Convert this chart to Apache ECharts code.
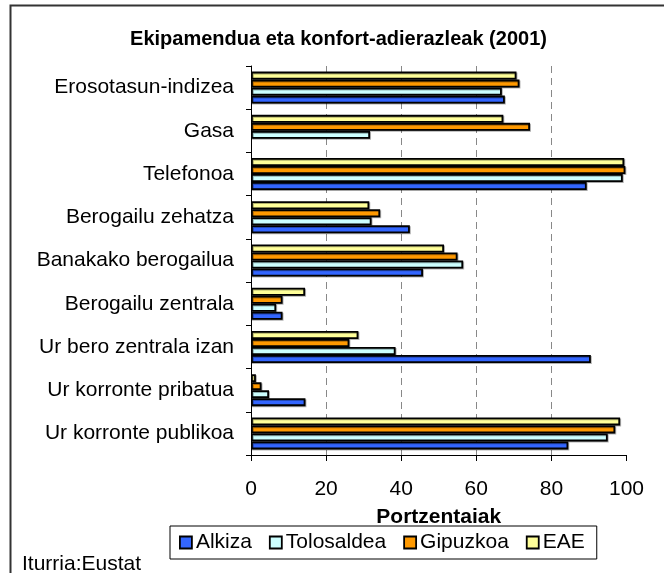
<!DOCTYPE html>
<html>
<head>
<meta charset="utf-8">
<script src="https://cdn.jsdelivr.net/npm/echarts@6/dist/echarts.min.js"></script>
<style>html,body{margin:0;padding:0;background:#fff;}#c{width:664px;height:573px;}</style>
</head>
<body>
<div id="c"></div>
<script>
const categories = ["Erosotasun-indizea","Gasa","Telefonoa","Berogailu zehatza","Banakako berogailua","Berogailu zentrala","Ur bero zentrala izan","Ur korronte pribatua","Ur korronte publikoa"];
const seriesNames = ["Alkiza","Tolosaldea","Gipuzkoa","EAE"];
const alkiza     = [67.6, null, 89.4, 42.3, 45.8, 8.4, 90.5, 14.5, 84.5];
const tolosaldea = [66.8, 31.7, 99.0, 32.1, 56.5, 6.7, 38.5, 4.8, 95.0];
const gipuzkoa   = [71.5, 74.3, 99.7, 34.4, 55.0, 8.4, 26.2, 2.8, 97.0];
const eae        = [70.7, 67.2, 99.4, 31.5, 51.4, 14.4, 28.6, 1.3, 98.3];
const xTicks = [0, 20, 40, 60, 80, 100];
const colors = ["#3366FF","#CCFFFF","#FF9900","#FFFF99"];
const values = [alkiza, tolosaldea, gipuzkoa, eae];

const chart = echarts.init(document.getElementById('c'), null, {renderer:'canvas'});
const font = 'Liberation Sans, Arial, sans-serif';
// with an inverted category axis the first series is drawn on top, so draw EAE first
const order = [3, 2, 1, 0];
chart.setOption({
  backgroundColor: '#fff',
  animation: false,
  graphic: [{
    type: 'rect', shape: {x: 10.5, y: 5.5, width: 700, height: 700},
    style: {fill: null, stroke: '#333', lineWidth: 2}, silent: true
  }, {
    type: 'text', x: 338.5, y: 39,
    style: {text: 'Ekipamendua eta konfort-adierazleak (2001)', font: 'bold 20px ' + font, fill: '#000',
      textAlign: 'center', textVerticalAlign: 'middle'}
  }, {
    type: 'text', x: 22, y: 564,
    style: {text: 'Iturria:Eustat', font: '21px ' + font, fill: '#000', textVerticalAlign: 'middle'}
  }],
  legend: {
    data: seriesNames,
    left: 170, top: 526,
    itemWidth: 12, itemHeight: 12, itemGap: 17,
    padding: [6, 12, 6, 9],
    borderColor: '#000', borderWidth: 1,
    textStyle: {fontFamily: font, fontSize: 21, color: '#000', padding: [0,0,0,-1]},
    itemStyle: {borderColor: '#000', borderWidth: 1.8},
    icon: 'rect'
  },
  grid: {left: 251, right: 37.5, top: 66, bottom: 118, containLabel: false},
  xAxis: {
    type: 'value', min: xTicks[0], max: xTicks[xTicks.length-1], interval: 20,
    name: 'Portzentaiak', nameLocation: 'middle', nameGap: 52,
    nameTextStyle: {fontFamily: font, fontWeight: 'bold', fontSize: 21, color: '#000'},
    axisLine: {show: true, lineStyle: {color: '#000', width: 1}},
    axisTick: {show: true, length: 6, lineStyle: {color: '#000'}},
    axisLabel: {fontFamily: font, fontSize: 21, color: '#000', margin: 24},
    splitLine: {show: true, showMinLine: false, showMaxLine: false, lineStyle: {color: '#888', type: [7, 5], width: 1}}
  },
  yAxis: {
    type: 'category', data: categories, inverse: true,
    axisLine: {show: true, lineStyle: {color: '#000', width: 1}},
    axisTick: {show: true, length: 5, lineStyle: {color: '#000'}},
    axisLabel: {fontFamily: font, fontSize: 21, color: '#000', margin: 17}
  },
  series: order.map(i => ({
    name: seriesNames[i], type: 'bar', data: values[i],
    barGap: '0%', barCategoryGap: '26%',
    itemStyle: {color: colors[i], borderColor: '#000', borderWidth: 1.8,
      shadowColor: 'rgba(0,0,0,0.3)', shadowOffsetX: 1, shadowOffsetY: 1, shadowBlur: 0}
  }))
});
</script>
</body>
</html>
